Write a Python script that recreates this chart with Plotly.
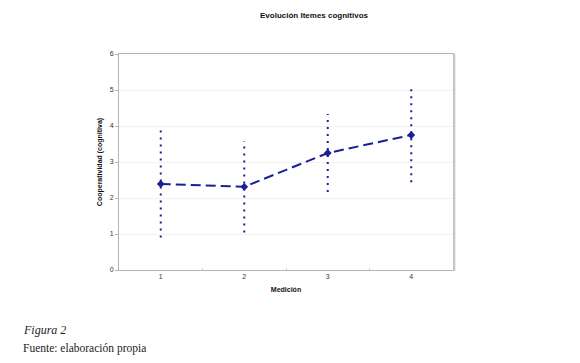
import plotly.graph_objects as go

categories = [1, 2, 3, 4]
means = [2.39, 2.31, 3.25, 3.75]
sds = [1.49, 1.27, 1.08, 1.31]
y_ticks = [0, 1, 2, 3, 4, 5, 6]

color = "#1a1f96"
fig = go.Figure()

for c, m, s in zip(categories, means, sds):
    fig.add_trace(go.Scatter(
        x=[c, c], y=[m - s, m + s], mode="lines",
        line=dict(color=color, width=2, dash="2px,5px"),
        showlegend=False, hoverinfo="skip"))

fig.add_trace(go.Scatter(
    x=categories, y=means, mode="lines+markers",
    line=dict(color=color, width=2, dash="10px,5px"),
    marker=dict(symbol="diamond", size=6, color=color),
    showlegend=False))

fig.update_layout(
    width=572, height=355,
    margin=dict(l=111, r=127, t=46, b=93),
    paper_bgcolor="white", plot_bgcolor="white",
    font=dict(family="Liberation Sans, Arial, sans-serif", size=7, color="#333"),
    title=dict(text="<b>Evolución Itemes cognitivos</b>", x=(314 - 8) / 572,
               xanchor="center", xref="container",
               y=1 - (15 - 8) / 355, yanchor="middle", font=dict(size=8, color="#111")),
    xaxis=dict(range=[0.5, 4.5], tickvals=categories, ticks="",
               tickfont=dict(size=7, color="#333"),
               showgrid=False, zeroline=False,
               showline=True, linecolor="#b4b4b4", linewidth=1, mirror=True,
               title=dict(text="<b>Medición</b>", font=dict(size=7, color="#111"), standoff=7)),
    yaxis=dict(range=[0, 6], tickvals=y_ticks, ticks="outside", ticklen=3, tickcolor="#b4b4b4",
               tickfont=dict(size=7, color="#333"),
               showgrid=True, gridcolor="#f2f2f2", zeroline=False,
               showline=True, linecolor="#b4b4b4", linewidth=1, mirror=True,
               title=dict(text="<b>Cooperatividad (cognitiva)</b>", font=dict(size=7, color="#111"), standoff=6)),
)

fig.update_xaxes(minor=dict(tickvals=[1.5, 2.5, 3.5], ticks="inside", ticklen=2, tickcolor="#d0d0d0"))

# shadow on the right edge of the plot frame
fig.add_shape(type="line", xref="paper", yref="paper", x0=1.004, x1=1.004, y0=-0.004, y1=1.0,
              line=dict(color="#c8c8c8", width=2))

fig.add_annotation(text="<i>Figura 2</i>", xref="paper", yref="paper",
                   x=(21 - 119) / 334, y=-(330 - 270) / 216, xanchor="left", yanchor="middle",
                   showarrow=False, font=dict(family="Liberation Serif, serif", size=12, color="#222"))
fig.add_annotation(text="Fuente: elaboración propia", xref="paper", yref="paper",
                   x=(21 - 119) / 334, y=-(348 - 270) / 216, xanchor="left", yanchor="middle",
                   showarrow=False, font=dict(family="Liberation Serif, serif", size=11.5, color="#222"))

fig.write_html("out.html")
